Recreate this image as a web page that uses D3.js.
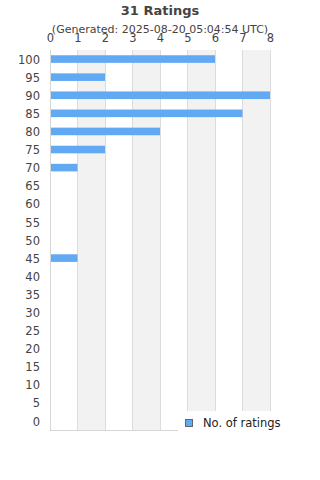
<!DOCTYPE html>
<html>
<head>
<meta charset="utf-8">
<script src="https://cdn.jsdelivr.net/npm/d3@7"></script>
<style>
  html, body { margin: 0; padding: 0; background: #fff; }
  svg text { font-family: "DejaVu Sans", sans-serif; }
</style>
</head>
<body>
<svg id="chart" width="320" height="480"></svg>
<script>
// Ratings histogram: score buckets (top to bottom) and counts
const categories = [100, 95, 90, 85, 80, 75, 70, 65, 60, 55, 50, 45, 40, 35, 30, 25, 20, 15, 10, 5, 0];
const counts     = [6, 2, 8, 7, 4, 2, 1, 0, 0, 0, 0, 1, 0, 0, 0, 0, 0, 0, 0, 0, 0];
const xTicks     = [0, 1, 2, 3, 4, 5, 6, 7, 8];
const titleText  = '31 Ratings';
const subText    = '(Generated: 2025-08-20 05:04:54 UTC)';
const legendText = 'No. of ratings';

const theme = { bar: '#62a9f4', grid: '#dcdcdc', band: '#f2f2f2', text: '#444', border: '#d6d6d6' };

const svg = d3.select('#chart');
const M = { left: 50, right: 270, top: 50, bottom: 430 };

const x = d3.scaleLinear().domain([0, 8]).range([M.left, M.right]);
const y = d3.scaleBand().domain(categories).range([M.top, M.bottom]).paddingInner(0.58).paddingOuter(0.29);

// ─── Alternating bands ───
svg.append('g').selectAll('rect')
  .data(xTicks.slice(0, -1).filter(d => d % 2 === 1))
  .join('rect')
  .attr('x', d => x(d)).attr('width', d => x(d + 1) - x(d))
  .attr('y', M.top).attr('height', M.bottom - M.top)
  .attr('fill', theme.band);

// ─── Grid lines ───
svg.append('g').selectAll('line')
  .data(xTicks)
  .join('line')
  .attr('x1', d => x(d)).attr('x2', d => x(d))
  .attr('y1', M.top).attr('y2', M.bottom)
  .attr('stroke', d => d === 0 ? theme.border : theme.grid)
  .attr('stroke-width', 1)
  .attr('shape-rendering', 'crispEdges');

svg.append('line')
  .attr('x1', M.left).attr('x2', M.right)
  .attr('y1', M.bottom + 0.5).attr('y2', M.bottom + 0.5)
  .attr('stroke', theme.border);

// ─── Bars ───
svg.append('g').selectAll('rect')
  .data(categories.map((c, i) => ({ c, v: counts[i] })).filter(d => d.v > 0))
  .join('rect')
  .attr('x', x(0) + 1)
  .attr('y', d => y(d.c))
  .attr('width', d => x(d.v) - x(0) - 1)
  .attr('height', y.bandwidth())
  .attr('fill', theme.bar);

// ─── Y axis ───
svg.append('g')
  .attr('transform', `translate(${M.left},0)`)
  .call(d3.axisLeft(y).tickSize(0).tickPadding(10))
  .call(sel => {
    sel.select('.domain').remove();
    sel.selectAll('text')
      .attr('fill', theme.text)
      .attr('dy', '0.4em')
      .style('font-family', '"DejaVu Sans", sans-serif')
      .style('font-size', '11.5px');
  });

// ─── X axis (top) ───
svg.append('g')
  .attr('transform', `translate(0,${M.top})`)
  .call(d3.axisTop(x).tickValues(xTicks).tickSize(0).tickPadding(8).tickFormat(d3.format('d')))
  .call(sel => {
    sel.select('.domain').remove();
    sel.selectAll('text')
      .attr('fill', theme.text)
      .style('font-family', '"DejaVu Sans", sans-serif')
      .style('font-size', '11.5px');
  });

// ─── Titles ───
svg.append('text')
  .attr('x', 160).attr('y', 15)
  .attr('text-anchor', 'middle')
  .attr('fill', theme.text)
  .style('font-size', '13px').style('font-weight', 'bold')
  .text(titleText);

svg.append('text')
  .attr('x', 160).attr('y', 33)
  .attr('text-anchor', 'middle')
  .attr('fill', theme.text)
  .style('font-size', '11px')
  .text(subText);

// ─── Legend ───
const lg = svg.append('g').attr('transform', 'translate(178,411)');
lg.append('rect').attr('width', 142).attr('height', 24).attr('fill', '#fff');
lg.append('rect')
  .attr('x', 7.5).attr('y', 8.5).attr('width', 7).attr('height', 7)
  .attr('fill', theme.bar).attr('stroke', '#666');
lg.append('text')
  .attr('x', 25).attr('y', 15.5)
  .attr('fill', '#222')
  .style('font-size', '11.5px')
  .text(legendText);
</script>
</body>
</html>
